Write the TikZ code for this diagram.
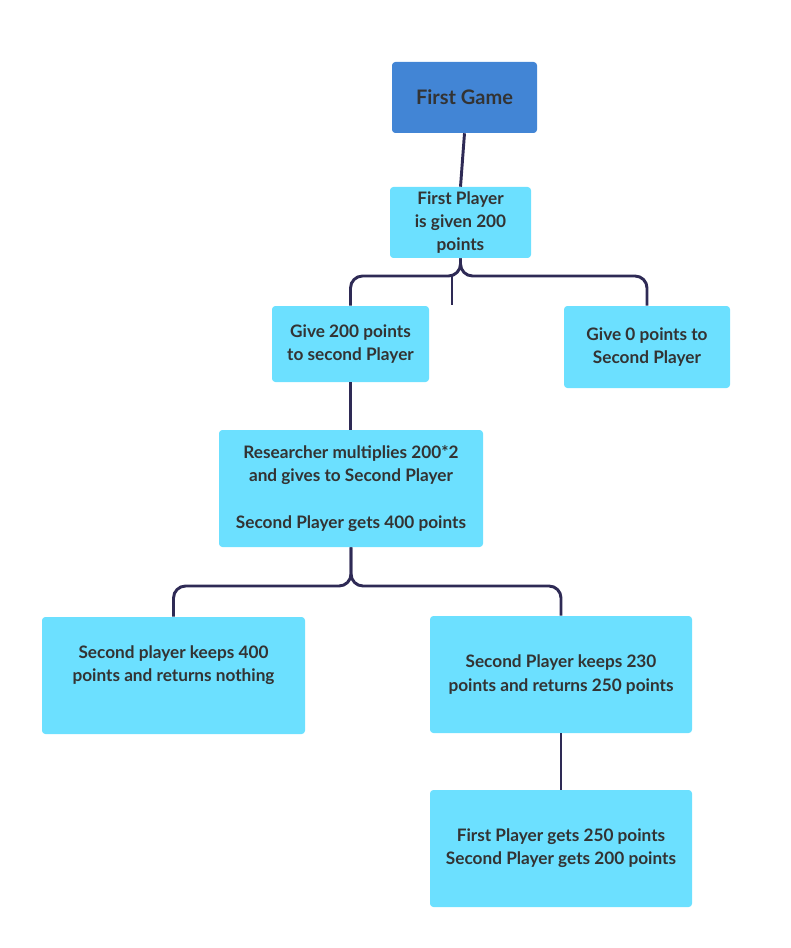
\documentclass[tikz,border=0pt]{standalone}
\usepackage{fontspec}
\setmainfont{Lato}[BoldFont={Lato Bold}]
\usepackage{tikz}

\definecolor{boxcyan}{HTML}{6CE0FF}
\definecolor{gameblue}{HTML}{4285D5}
\definecolor{linenavy}{HTML}{2E2A55}
\definecolor{textgray}{HTML}{333333}

\def\pxlen{0.75pt}

\tikzset{
  stepbox/.style={fill=boxcyan, draw=none, rounded corners=2.5pt, align=center,
    text=textgray, font=\bfseries\fontsize{12.9}{17.4}\selectfont, inner sep=0pt},
  gamebox/.style={stepbox, fill=gameblue, font=\bfseries\fontsize{15}{18}\selectfont},
  conn/.style={draw=linenavy, line width=2.2pt, rounded corners=9pt}
}

\begin{document}
\begin{tikzpicture}[x=0.75pt, y=-0.75pt]

   \useasboundingbox (0,0) rectangle (790,948);

   % boxes
   \node[gamebox, minimum width=145*\pxlen, minimum height=71*\pxlen] (game) at (464.5,97.5) {First Game};
   \node[stepbox, minimum width=141*\pxlen, minimum height=71*\pxlen] (given) at (460.5,222.5) {First Player\\is given 200\\points};
   \node[stepbox, minimum width=157*\pxlen, minimum height=76*\pxlen] (give200) at (350.5,344) {Give 200 points\\to second Player};
   \node[stepbox, minimum width=166*\pxlen, minimum height=82*\pxlen] (give0) at (647,347) {Give 0 points to\\Second Player};
   \node[stepbox, minimum width=264*\pxlen, minimum height=117*\pxlen] (research) at (351,488.5) {Researcher multiplies 200*2\\and gives to Second Player\\~\\Second Player gets 400 points};
   \node[stepbox, minimum width=263*\pxlen, minimum height=117*\pxlen] (keep400) at (173.5,675.5) {Second player keeps 400\\points and returns nothing\\~};
   \node[stepbox, minimum width=262*\pxlen, minimum height=117*\pxlen] (keep230) at (561,674.5) {Second Player keeps 230\\points and returns 250 points};
   \node[stepbox, minimum width=262*\pxlen, minimum height=117*\pxlen] (final) at (561,848.5) {First Player gets 250 points\\Second Player gets 200 points};

   % split points
   \coordinate (split1) at (461,276);
   \coordinate (split2) at (351,586);
   \coordinate (stub) at (452,305);

   % connectors
   \draw[conn] (game.south) -- (given.north);
   \draw[conn] (given.south) |- (give200.north |- split1) -- (give200.north);
   \draw[conn] (given.south) |- (give0.north |- split1) -- (give0.north);
   \draw[conn] (stub |- split1) -- (stub);
   \draw[conn] (give200.south) -- (research.north -| give200.south);
   \draw[conn] (research.south) |- (keep400.north |- split2) -- (keep400.north);
   \draw[conn] (research.south) |- (keep230.north |- split2) -- (keep230.north);
   \draw[conn] (keep230.south) -- (final.north);

\end{tikzpicture}
\end{document}
